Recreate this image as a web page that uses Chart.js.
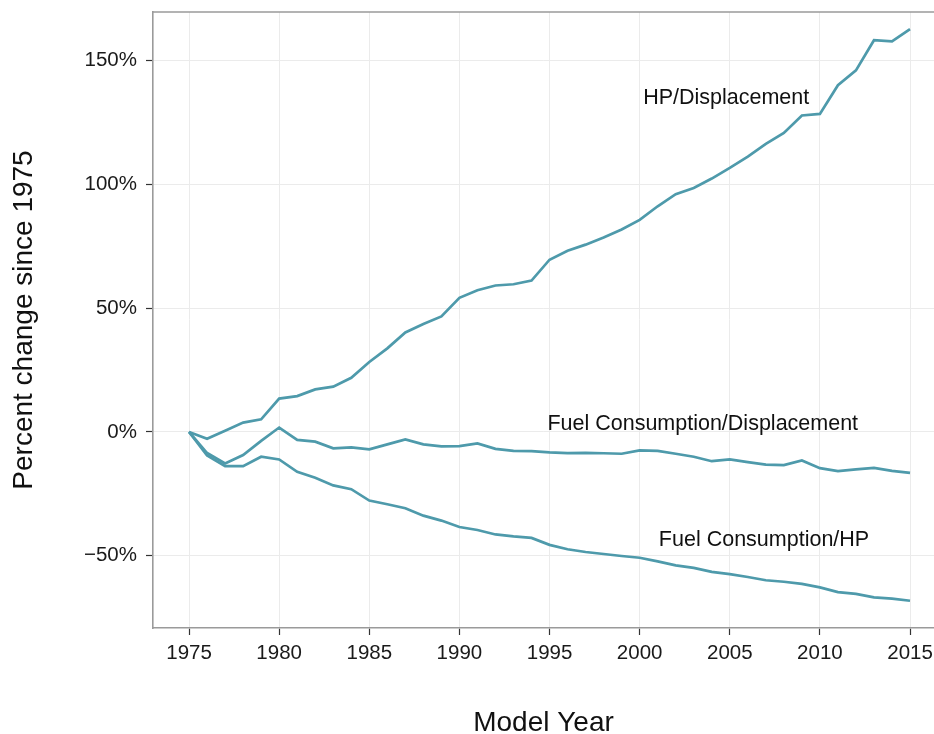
<!DOCTYPE html>
<html>
<head>
<meta charset="utf-8">
<script src="https://cdn.jsdelivr.net/npm/chart.js@4.4.1/dist/chart.umd.min.js"></script>
<style>
  html, body { margin: 0; padding: 0; background: #fff; }
  #wrap { width: 934px; height: 734px; position: relative; }
</style>
</head>
<body>
<div id="wrap"><canvas id="fuelChart"></canvas></div>
<script>
// model years and percent change since 1975
const years = [1975, 1976, 1977, 1978, 1979, 1980, 1981, 1982, 1983, 1984,
  1985, 1986, 1987, 1988, 1989, 1990, 1991, 1992, 1993, 1994,
  1995, 1996, 1997, 1998, 1999, 2000, 2001, 2002, 2003, 2004,
  2005, 2006, 2007, 2008, 2009, 2010, 2011, 2012, 2013, 2014, 2015];

const hpDisp = [0, -2.7, 0.5, 3.8, 5.1, 13.5, 14.5, 17.2, 18.3, 21.9,
  28.3, 33.8, 40.2, 43.6, 46.7, 54.2, 57.3, 59.2, 59.7, 61.2,
  69.6, 73.2, 75.7, 78.6, 81.8, 85.7, 91.2, 96.1, 98.6, 102.4,
  106.7, 111.3, 116.4, 120.8, 127.9, 128.5, 140.1, 146.1, 158.3, 157.8, 162.8];

const fcDisp = [0, -8.5, -12.7, -9.3, -3.6, 1.8, -3.2, -3.9, -6.6, -6.2,
  -7.0, -5.0, -3.0, -5.0, -5.8, -5.7, -4.6, -6.8, -7.6, -7.7,
  -8.2, -8.5, -8.4, -8.6, -8.8, -7.4, -7.6, -8.8, -10.0, -11.8,
  -11.1, -12.2, -13.2, -13.4, -11.5, -14.6, -15.8, -15.1, -14.5, -15.7, -16.5];

const fcHp = [0, -9.5, -13.8, -13.8, -10.0, -11.1, -16.1, -18.5, -21.6, -23.1,
  -27.7, -29.2, -30.8, -33.8, -35.8, -38.4, -39.6, -41.4, -42.2, -42.8,
  -45.6, -47.4, -48.5, -49.3, -50.1, -50.8, -52.3, -53.9, -54.9, -56.5,
  -57.4, -58.6, -59.9, -60.5, -61.4, -62.8, -64.7, -65.4, -66.8, -67.3, -68.2];

const xTicks = [1975, 1980, 1985, 1990, 1995, 2000, 2005, 2010, 2015];
const yTicks = [-50, 0, 50, 100, 150];

// text labels placed in data units
const seriesLabels = ['HP/Displacement', 'Fuel Consumption/Displacement', 'Fuel Consumption/HP'];
const labelX = [2004.8, 2003.5, 2006.9];
const labelY = [135, 3.2, -43.5];

const lineColor = '#4e9aab';
const fontFamily = '"Liberation Sans", Arial, Helvetica, sans-serif';

function toPoints(values) {
  return years.map((y, i) => ({ x: y, y: values[i] }));
}

// no extra room for tick labels, the panel fills the window
function noPadding(s) {
  s.paddingLeft = 0;
  s.paddingRight = 0;
  s.paddingTop = 0;
  s.paddingBottom = 0;
}

// top panel border and the text labels next to the lines
const extrasPlugin = {
  id: 'extras',
  afterDatasetsDraw(chart) {
    const ctx = chart.ctx;
    const area = chart.chartArea;
    const xs = chart.scales.x;
    const ys = chart.scales.y;
    ctx.save();
    ctx.strokeStyle = '#9a9a9a';
    ctx.lineWidth = 1.6;
    ctx.beginPath();
    ctx.moveTo(area.left, area.top);
    ctx.lineTo(area.right, area.top);
    ctx.stroke();

    ctx.fillStyle = '#111';
    ctx.font = '21.5px ' + fontFamily;
    ctx.textAlign = 'center';
    ctx.textBaseline = 'middle';
    seriesLabels.forEach((t, i) => {
      ctx.fillText(t, xs.getPixelForValue(labelX[i]), ys.getPixelForValue(labelY[i]));
    });
    ctx.restore();
  }
};

function makeDataset(label, values) {
  return {
    label: label,
    data: toPoints(values),
    borderColor: lineColor,
    borderWidth: 2.7,
    pointRadius: 0,
    fill: false,
    tension: 0
  };
}

const ctx = document.getElementById('fuelChart').getContext('2d');
new Chart(ctx, {
  type: 'line',
  data: {
    datasets: [
      makeDataset(seriesLabels[0], hpDisp),
      makeDataset(seriesLabels[1], fcDisp),
      makeDataset(seriesLabels[2], fcHp)
    ]
  },
  options: {
    responsive: true,
    maintainAspectRatio: false,
    animation: false,
    layout: { padding: { top: 12, left: 0, right: 0, bottom: 0 } },
    plugins: {
      legend: { display: false },
      tooltip: { enabled: false }
    },
    scales: {
      x: {
        type: 'linear',
        min: 1973,
        max: 2016.33,
        afterBuildTicks: s => { s.ticks = xTicks.map(v => ({ value: v })); },
        afterFit: s => { s.height = 106; noPadding(s); },
        grid: { color: '#ebebeb', lineWidth: 1, tickLength: 7, tickColor: '#333', tickWidth: 1.2 },
        border: { display: true, color: '#9a9a9a', width: 1.6 },
        ticks: {
          color: '#1a1a1a',
          padding: 6,
          maxRotation: 0,
          font: { family: fontFamily, size: 20.5 },
          callback: v => String(v)
        },
        title: {
          display: true,
          text: 'Model Year',
          color: '#111',
          padding: { top: 0, bottom: 0 },
          font: { family: fontFamily, size: 28, lineHeight: '22px' }
        }
      },
      y: {
        type: 'linear',
        min: -79.2,
        max: 169.7,
        afterBuildTicks: s => { s.ticks = yTicks.map(v => ({ value: v })); },
        afterFit: s => { s.width = 153; noPadding(s); },
        grid: { color: '#ebebeb', lineWidth: 1, tickLength: 7, tickColor: '#333', tickWidth: 1.2 },
        border: { display: true, color: '#9a9a9a', width: 1.6 },
        ticks: {
          color: '#1a1a1a',
          padding: 9,
          font: { family: fontFamily, size: 20.5 },
          callback: v => (v < 0 ? '\u2212' + Math.abs(v) : v) + '%'
        },
        title: {
          display: true,
          text: 'Percent change since 1975',
          color: '#111',
          padding: { top: 12, bottom: 0 },
          font: { family: fontFamily, size: 28, lineHeight: '24px' }
        }
      }
    }
  },
  plugins: [extrasPlugin]
});
</script>
</body>
</html>
